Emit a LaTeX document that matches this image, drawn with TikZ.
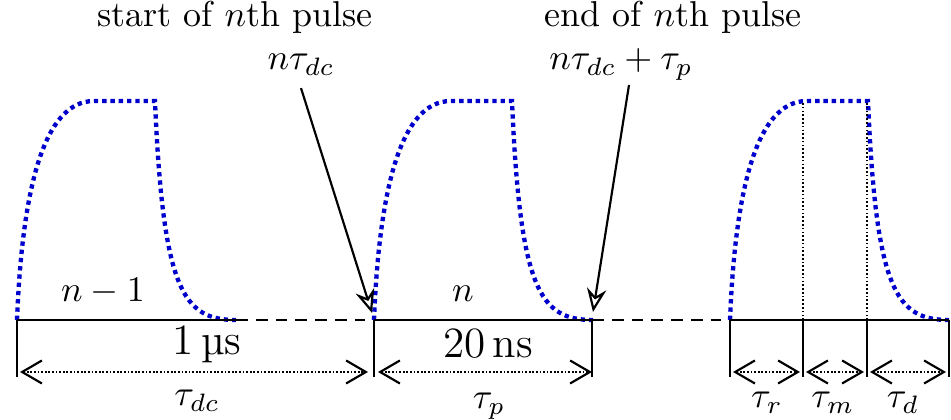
\documentclass[tikz,border=0pt]{standalone}
\usepackage{amsmath}
\usepackage{xcolor}
\usepackage{tikz}
\usetikzlibrary{arrows.meta,calc}
\definecolor{plBlue}{HTML}{0000CC}
\definecolor{plInk}{HTML}{000000}
\tikzset{
  pl diagram/.style={x=0.278pt,y=-0.278pt, text=plInk},
  pl pulse/.style={draw=plBlue, line width=1.2pt, dash pattern=on 1.2pt off 1.1pt},
  pl axis/.style={draw=plInk, line width=0.6pt},
  pl gap/.style={pl axis, dash pattern=on 3.3pt off 2.2pt},
  pl tick/.style={draw=plInk, line width=0.6pt},
  pl guide/.style={draw=plInk, line width=0.45pt, dash pattern=on 0.45pt off 0.6pt},
  pl dim/.style={draw=plInk, line width=0.6pt, dash pattern=on 0.5pt off 0.5pt,
    {Straight Barb[length=5.5pt,width=6.4pt]}-{Straight Barb[length=5.5pt,width=6.4pt]}},
  pl pointer/.style={-{Stealth[open,length=6.5pt,width=5.4pt,inset=2.2pt]}, draw=plInk, line width=0.6pt},
  pl label/.style={anchor=base},
  pl value/.style={anchor=base, font=\large}
}

\begin{document}
\begin{tikzpicture}[pl diagram]
\useasboundingbox (0,0) rectangle (951,420);
% pulses, one per period
\foreach \shift in {0,357,713}{
  \begin{scope}[shift={(\shift,0)}]
  \draw[pl pulse] (17,320) .. controls (22,195) and (42,101) .. (94,101)
    -- (155,101) .. controls (163,290) and (183,320) .. (236,320);
  \end{scope}
}
\coordinate (s1) at (17,320);
\coordinate (e1) at (236,320);
\coordinate (s2) at (374,320);
\coordinate (e2) at (592,320);
\coordinate (s3) at (730,320);
\coordinate (r3) at (803,320);
\coordinate (m3) at (867,320);
\coordinate (e3) at (949,320);
% time axis
\draw[pl axis] (s1) -- (e1);
\draw[pl gap] (e1) -- ($(s2)+(-9,0)$);
\draw[pl axis] (s2) -- (e2);
\draw[pl gap] (e2) -- ($(s3)+(-9,0)$);
\draw[pl axis] (s3) -- (e3);
\foreach \p in {s1,s2,e2,s3,r3,m3,e3} \draw[pl tick] (\p) -- ++(0,57);
\draw[pl guide] (r3) -- ++(0,-219);
\draw[pl guide] (m3) -- ++(0,-219);
% durations
\draw[pl dim] ($(s1)+(3,52)$) -- ($(s2)+(-6,52)$);
\draw[pl dim] ($(s2)+(4,52)$) -- ($(e2)+(0,52)$);
\draw[pl dim] ($(s3)+(3,52)$) -- ($(r3)+(-3,52)$);
\draw[pl dim] ($(r3)+(3,52)$) -- ($(m3)+(-3,52)$);
\draw[pl dim] ($(m3)+(3,52)$) -- ($(e3)+(-3,52)$);
% labels
\node[pl label] (startlbl) at (235,27) {start of $n$th pulse};
\node[pl label] (ntdc) at (301,70) {$n\tau_{dc}$};
\node[pl label] (endlbl) at (673,27) {end of $n$th pulse};
\node[pl label] (ntdcp) at (621,70) {$n\tau_{dc}+\tau_p$};
\node[pl label] (prevlbl) at (103,302) {$n-1$};
\node[pl label] (curlbl) at (463,302) {$n$};
\node[pl value] (dclen) at (207,355) {1\,\textmu s};
\node[pl value] (plen) at (488,358) {20\,ns};
\node[pl label] (taudc) at (197,406) {$\tau_{dc}$};
\node[pl label] (taup) at (489,409) {$\tau_p$};
\node[pl label] (taur) at (767,408) {$\tau_r$};
\node[pl label] (taum) at (833,408) {$\tau_m$};
\node[pl label] (taud) at (903,408) {$\tau_d$};
\draw[pl pointer] (ntdc.south) -- ($(s2)+(-2,-7)$);
\draw[pl pointer] ($(ntdcp.south)+(8,-8)$) -- ($(e2)+(1,-8)$);
\end{tikzpicture}
\end{document}
